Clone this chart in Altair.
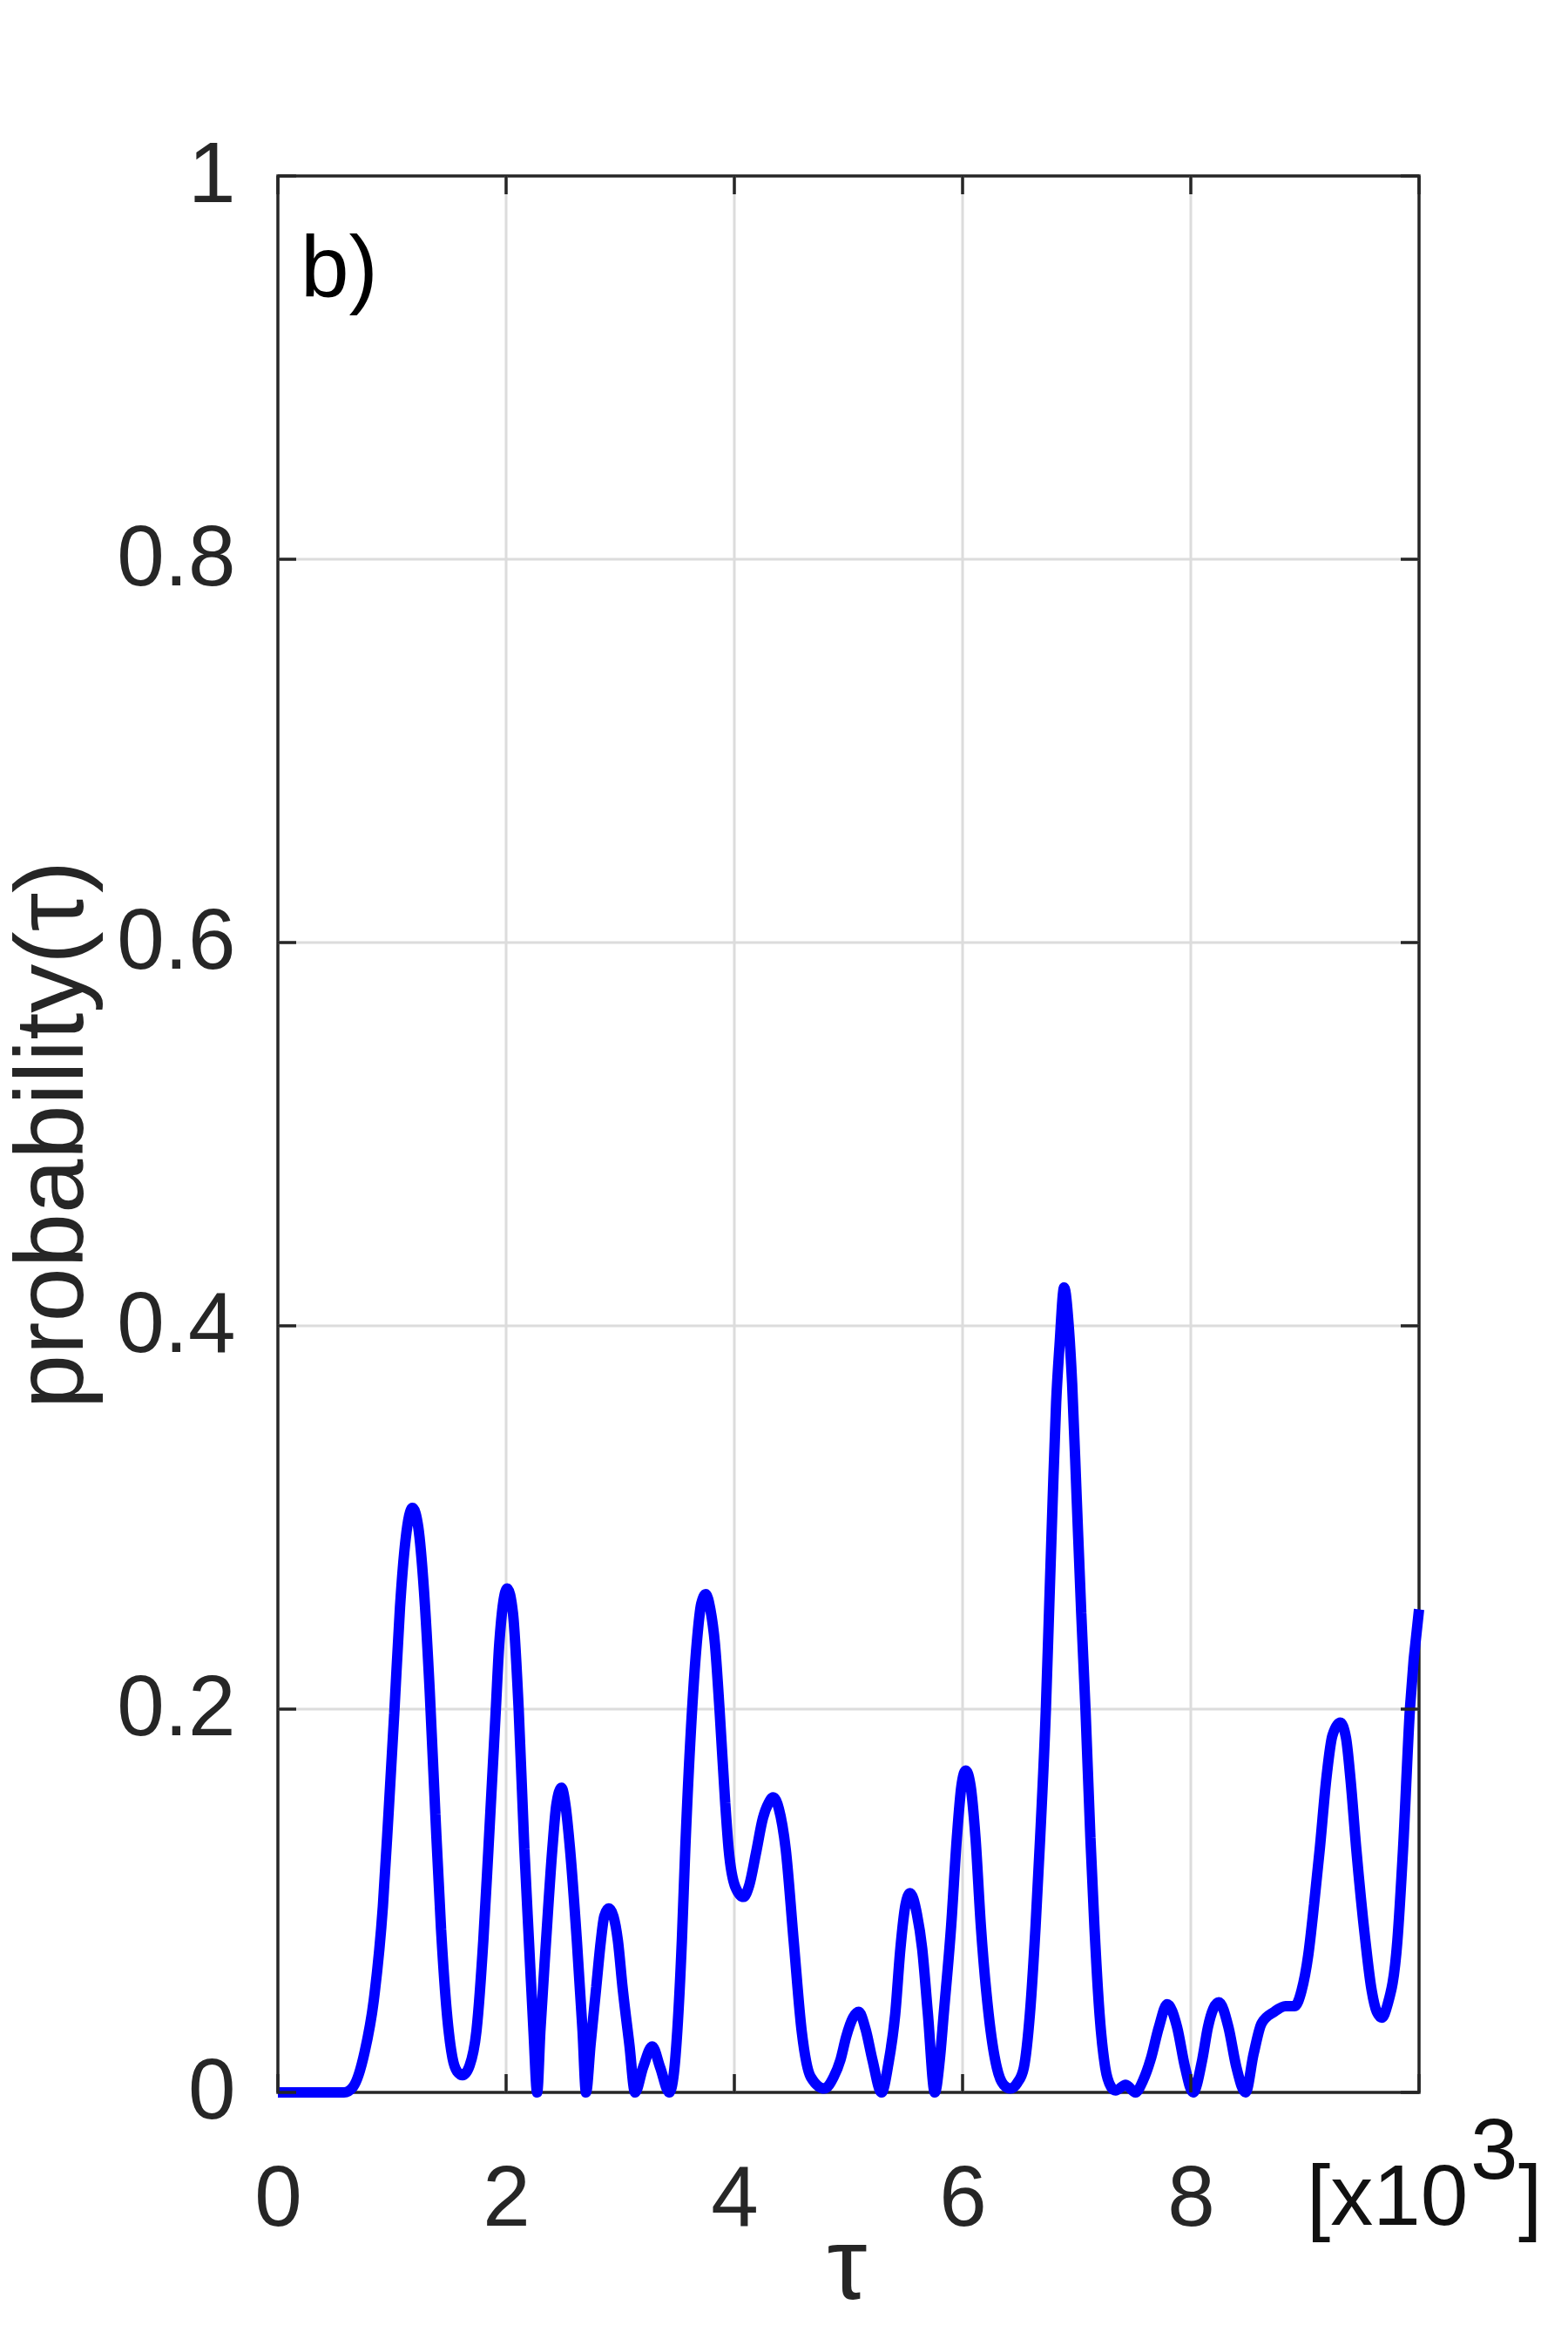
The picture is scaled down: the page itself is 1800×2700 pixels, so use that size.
import altair as alt
import pandas as pd

# ---- data (tau in units of 10^3) ----
tau = [0.00, 0.30, 0.58, 0.66, 0.76, 0.84, 0.92, 0.97, 1.02, 1.07, 1.12, 1.18,
       1.23, 1.28, 1.33, 1.38, 1.43, 1.48, 1.53, 1.57, 1.62, 1.68, 1.74, 1.80, 1.845, 1.91,
       1.94, 2.01, 2.06, 2.11, 2.16, 2.20, 2.24, 2.272, 2.30, 2.35, 2.405, 2.44,
       2.485, 2.52, 2.56, 2.62, 2.67, 2.70, 2.74, 2.79, 2.83, 2.86, 2.90, 2.94,
       2.98, 3.02, 3.08, 3.13, 3.20, 3.28, 3.35, 3.43, 3.47, 3.50, 3.54, 3.57, 3.63,
       3.67, 3.71, 3.75, 3.79, 3.83, 3.87, 3.92, 3.95, 4.01, 4.08, 4.13, 4.19,
       4.25, 4.30, 4.34, 4.39, 4.45, 4.52, 4.59, 4.67, 4.79, 4.87, 4.93, 4.98, 5.04,
       5.09, 5.15, 5.21, 5.29, 5.35, 5.41, 5.455, 5.50, 5.54, 5.60, 5.646, 5.696,
       5.757, 5.80, 5.835, 5.90, 5.95, 5.99, 6.028, 6.07, 6.113, 6.16, 6.228, 6.30,
       6.36, 6.42, 6.48, 6.537, 6.59, 6.64, 6.68, 6.73, 6.76, 6.79, 6.82, 6.85,
       6.89, 6.93, 6.96, 7.00, 7.04, 7.077, 7.12, 7.155, 7.20, 7.25, 7.30, 7.34,
       7.43, 7.515, 7.58, 7.647, 7.72, 7.793, 7.88, 7.95, 8.02, 8.10, 8.15, 8.246,
       8.33, 8.40, 8.48, 8.55, 8.62, 8.73, 8.83, 8.91, 8.97, 9.03, 9.08, 9.13,
       9.19, 9.24, 9.31, 9.36, 9.40, 9.45, 9.53, 9.58, 9.63, 9.675, 9.72, 9.81,
       9.86, 9.92, 10.00]
prob = [0.000, 0.000, 0.000, 0.003, 0.021, 0.048, 0.097, 0.146, 0.198, 0.253, 0.289, 0.305,
        0.295, 0.262, 0.210, 0.145, 0.085, 0.042, 0.018, 0.011, 0.009, 0.014, 0.032, 0.079, 0.127, 0.200,
        0.234, 0.263, 0.250, 0.200, 0.127, 0.079, 0.032, 0.000, 0.032, 0.079, 0.127, 0.150,
        0.159, 0.150, 0.127, 0.079, 0.032, 0.000, 0.025, 0.055, 0.079, 0.092, 0.096, 0.092,
        0.079, 0.055, 0.025, 0.000, 0.013, 0.024, 0.013, 0.000, 0.010, 0.032, 0.079, 0.127, 0.200,
        0.234, 0.255, 0.260, 0.252, 0.234, 0.200, 0.151, 0.127, 0.107, 0.102, 0.108, 0.125,
        0.143, 0.151, 0.154, 0.148, 0.127, 0.079, 0.032, 0.008, 0.002, 0.008, 0.017, 0.029, 0.039,
        0.042, 0.033, 0.017, 0.000, 0.015, 0.041, 0.075, 0.098, 0.104, 0.093, 0.075, 0.041,
        0.000, 0.017, 0.041, 0.087, 0.133, 0.160, 0.168, 0.160, 0.133, 0.087, 0.041, 0.013,
        0.004, 0.002, 0.005, 0.013, 0.041, 0.087, 0.133, 0.200, 0.255, 0.310, 0.360, 0.390,
        0.420, 0.400, 0.370, 0.310, 0.250, 0.200, 0.133, 0.087, 0.041, 0.013, 0.003, 0.001,
        0.004, 0.000, 0.006, 0.017, 0.034, 0.046, 0.034, 0.013, 0.000, 0.017, 0.034, 0.047,
        0.034, 0.013, 0.000, 0.020, 0.036, 0.042, 0.045, 0.045, 0.053, 0.072, 0.098, 0.127,
        0.165, 0.186, 0.193, 0.185, 0.163, 0.127, 0.079, 0.055, 0.042, 0.039, 0.045, 0.079,
        0.127, 0.200, 0.252]

x_tick_vals = [0, 2, 4, 6, 8, 10]
x_label_vals = [0, 2, 4, 6, 8]
x_grid_vals = [2, 4, 6, 8]
y_tick_vals = [0, 0.2, 0.4, 0.6, 0.8, 1]
y_grid_vals = [0.2, 0.4, 0.6, 0.8]

df = pd.DataFrame({"tau": tau, "p": prob})
xt = pd.DataFrame({"tau": x_tick_vals})
yt = pd.DataFrame({"p": y_tick_vals})
xg = pd.DataFrame({"tau": x_grid_vals})
yg = pd.DataFrame({"p": y_grid_vals})

W, H = 1310, 2200
FONT = "Liberation Sans"
AX = "#262626"
GRID = "#dcdcdc"
TL = 21  # inner tick length

xs = alt.Scale(domain=[0, 10], nice=False, zero=False)
ys = alt.Scale(domain=[0, 1], nice=False, zero=False)

x_axis = alt.Axis(values=x_label_vals, format="~g", grid=False,
                  ticks=False, tickSize=0, domain=False, labelFlush=False,
                  labelFont=FONT, labelFontSize=98, labelColor=AX, labelPadding=152,
                  labelBaseline="alphabetic", labelAlign="center",
                  title="τ", titleFont=FONT, titleFontSize=116, titleFontWeight="normal",
                  titleColor=AX, titleX=653, titleY=236, titleBaseline="alphabetic",
                  titleAlign="center")
y_axis = alt.Axis(values=y_tick_vals, format="~g", grid=False,
                  ticks=False, tickSize=0, domain=False, labelFlush=False,
                  labelFont=FONT, labelFontSize=98, labelColor=AX, labelPadding=49,
                  labelBaseline="middle", labelAlign="right",
                  title="probability(τ)", titleFont=FONT, titleFontSize=112,
                  titleFontWeight="normal", titleColor=AX, titleAngle=270,
                  titleX=-225, titleY=1100, titleBaseline="alphabetic", titleAlign="center")

x_grid = alt.Chart(xg).mark_rule(color=GRID, strokeWidth=3).encode(
    x=alt.X("tau:Q", scale=xs), y=alt.value(0), y2=alt.value(H))
y_grid = alt.Chart(yg).mark_rule(color=GRID, strokeWidth=3).encode(
    y=alt.Y("p:Q", scale=ys), x=alt.value(0), x2=alt.value(W))

line = alt.Chart(df).mark_line(color="#0000ff", strokeWidth=12, interpolate="monotone",
                               strokeCap="butt", strokeJoin="bevel").encode(
    x=alt.X("tau:Q", scale=xs, axis=x_axis),
    y=alt.Y("p:Q", scale=ys, axis=y_axis),
)

tick_style = dict(color=AX, strokeWidth=3.5)
bottom_ticks = alt.Chart(xt).mark_rule(**tick_style).encode(
    x=alt.X("tau:Q", scale=xs), y=alt.value(H), y2=alt.value(H - TL))
top_ticks = alt.Chart(xt).mark_rule(**tick_style).encode(
    x=alt.X("tau:Q", scale=xs), y=alt.value(0), y2=alt.value(TL))
left_ticks = alt.Chart(yt).mark_rule(**tick_style).encode(
    y=alt.Y("p:Q", scale=ys), x=alt.value(0), x2=alt.value(TL))
right_ticks = alt.Chart(yt).mark_rule(**tick_style).encode(
    y=alt.Y("p:Q", scale=ys), x=alt.value(W - TL), x2=alt.value(W))

panel_label = alt.Chart(pd.DataFrame({"t": ["b)"]})).mark_text(
    font=FONT, fontSize=100, color="#000000", align="left", baseline="alphabetic"
).encode(text="t:N", x=alt.value(26), y=alt.value(139))

exp_main = alt.Chart(pd.DataFrame({"t": ["[x10"]})).mark_text(
    font=FONT, fontSize=98, color="#111111", align="left", baseline="alphabetic"
).encode(text="t:N", x=alt.value(1181), y=alt.value(2352))
exp_sup = alt.Chart(pd.DataFrame({"t": ["3"]})).mark_text(
    font=FONT, fontSize=98, color="#111111", align="left", baseline="alphabetic"
).encode(text="t:N", x=alt.value(1369), y=alt.value(2299))
exp_close = alt.Chart(pd.DataFrame({"t": ["]"]})).mark_text(
    font=FONT, fontSize=98, color="#111111", align="left", baseline="alphabetic"
).encode(text="t:N", x=alt.value(1424), y=alt.value(2352))

chart = alt.layer(x_grid, y_grid, line, bottom_ticks, top_ticks, left_ticks, right_ticks,
                  panel_label, exp_main, exp_sup, exp_close).properties(
    width=W, height=H,
    autosize=alt.AutoSizeParams(type="none"),
    padding={"left": 311, "top": 194, "right": 160, "bottom": 290},
    background="white",
).configure_view(stroke=AX, strokeWidth=3.5)

chart.save("out.html", embed_options={"renderer": "svg", "actions": False})
